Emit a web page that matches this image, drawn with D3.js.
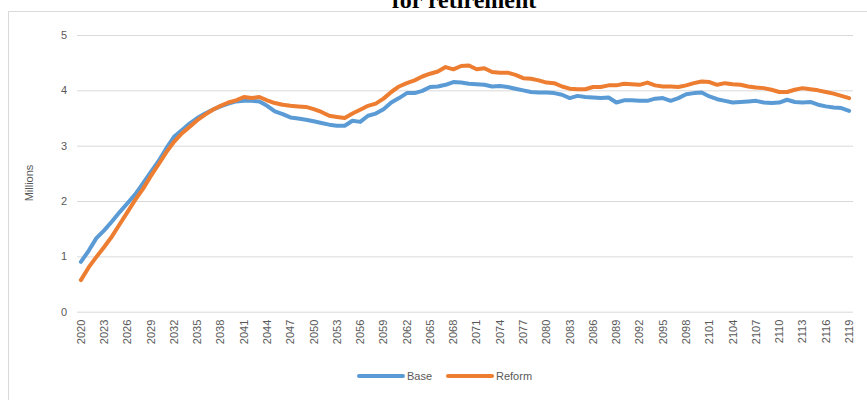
<!DOCTYPE html>
<html>
<head>
<meta charset="utf-8">
<script src="https://cdn.jsdelivr.net/npm/d3@7"></script>
<style>
  html, body { margin: 0; padding: 0; background: #ffffff; overflow: hidden; }
  svg { display: block; }
</style>
</head>
<body>
<svg id="chart" width="867" height="400"></svg>
<script>
// ---- Data ----
const years = d3.range(2020, 2120);
const baseValues = [
  0.90, 1.10, 1.33, 1.47, 1.63, 1.80, 1.96, 2.12, 2.32, 2.52,
  2.72, 2.95, 3.16, 3.28, 3.40, 3.50, 3.58, 3.65, 3.71, 3.76,
  3.80, 3.81, 3.81, 3.80, 3.72, 3.62, 3.57, 3.51, 3.49, 3.47,
  3.44, 3.41, 3.38, 3.36, 3.36, 3.45, 3.43, 3.54, 3.58, 3.66,
  3.78, 3.86, 3.95, 3.95, 3.99, 4.06, 4.07, 4.10, 4.15, 4.14,
  4.12, 4.11, 4.10, 4.07, 4.08, 4.06, 4.03, 4.00, 3.97, 3.96,
  3.96, 3.95, 3.92, 3.86, 3.90, 3.88, 3.87, 3.86, 3.87, 3.78,
  3.82, 3.82, 3.81, 3.81, 3.85, 3.86, 3.81, 3.86, 3.93, 3.95,
  3.96, 3.89, 3.84, 3.81, 3.78, 3.79, 3.80, 3.81, 3.78, 3.77,
  3.78, 3.83, 3.79, 3.78, 3.79, 3.74, 3.71, 3.69, 3.68, 3.63
];
const reformValues = [
  0.57, 0.80, 0.99, 1.17, 1.36, 1.58, 1.80, 2.02, 2.22, 2.45,
  2.66, 2.88, 3.07, 3.22, 3.34, 3.46, 3.56, 3.65, 3.72, 3.78,
  3.82, 3.88, 3.86, 3.88, 3.82, 3.77, 3.74, 3.72, 3.71, 3.70,
  3.66, 3.61, 3.54, 3.52, 3.50, 3.58, 3.65, 3.72, 3.76, 3.85,
  3.97, 4.07, 4.13, 4.18, 4.25, 4.30, 4.34, 4.42, 4.38, 4.44,
  4.45, 4.38, 4.40, 4.33, 4.32, 4.32, 4.28, 4.22, 4.21, 4.18,
  4.14, 4.13, 4.07, 4.03, 4.02, 4.02, 4.06, 4.06, 4.09, 4.09,
  4.12, 4.11, 4.10, 4.14, 4.09, 4.07, 4.07, 4.06, 4.09, 4.13,
  4.16, 4.15, 4.10, 4.13, 4.11, 4.10, 4.07, 4.05, 4.04, 4.01,
  3.97, 3.97, 4.01, 4.04, 4.02, 4.00, 3.97, 3.94, 3.90, 3.86
];
const seriesNames = ["Base", "Reform"];
const seriesColors = ["#5B9BD5", "#ED7D31"];
const yTicks = [0, 1, 2, 3, 4, 5];
const xTickYears = years.filter((y, i) => i % 3 === 0);
const titleText = "for retirement";
const yAxisTitle = "Millions";

// ---- Layout ----
const svg = d3.select("#chart");
const plot = { left: 77, right: 853, top: 35, bottom: 311.7 };
const textColor = "#595959";
const gridColor = "#D9D9D9";
const font = "'Liberation Sans', Arial, sans-serif";

// chart area border
svg.append("rect")
  .attr("x", 8.5).attr("y", 11.5)
  .attr("width", 900).attr("height", 420)
  .attr("fill", "none").attr("stroke", gridColor).attr("stroke-width", 1);

// title (partially cut at top, as in reference)
svg.append("text")
  .attr("x", 464).attr("y", 7.5)
  .attr("text-anchor", "middle")
  .attr("font-family", "'Liberation Serif', 'Times New Roman', serif")
  .attr("font-weight", "bold")
  .attr("font-size", 24)
  .attr("fill", "#000")
  .text(titleText);

const x = d3.scaleBand().domain(years).range([plot.left, plot.right]);
const xc = d => x(d) + x.bandwidth() / 2;
const y = d3.scaleLinear().domain([0, 5]).range([plot.bottom, plot.top]);

// gridlines + y axis labels
const yAxis = d3.axisLeft(y).tickValues(yTicks).tickSize(-(plot.right - plot.left)).tickPadding(10).tickFormat(d3.format("d"));
const gy = svg.append("g").attr("transform", `translate(${plot.left},0)`).call(yAxis);
gy.select(".domain").remove();
gy.selectAll(".tick line").attr("stroke", gridColor).attr("stroke-width", 1);
gy.selectAll(".tick text").attr("fill", textColor).attr("font-family", font).attr("font-size", 11);

// x axis labels
const xAxis = d3.axisBottom(x).tickValues(xTickYears).tickSize(0).tickPadding(0);
const gx = svg.append("g").attr("transform", `translate(0,${plot.bottom})`).call(xAxis);
gx.select(".domain").remove();
gx.selectAll(".tick text")
  .attr("fill", textColor).attr("font-family", font).attr("font-size", 11)
  .attr("text-anchor", "end")
  .attr("transform", "translate(0,8) rotate(-90)")
  .attr("dx", 0).attr("dy", "0.35em").attr("x", 0).attr("y", 0);

// y axis title
svg.append("text")
  .attr("transform", `translate(33,183) rotate(-90)`)
  .attr("text-anchor", "middle")
  .attr("fill", textColor).attr("font-family", font).attr("font-size", 11)
  .text(yAxisTitle);

// lines
const seriesData = [baseValues, reformValues];
const line = d3.line().x((d, i) => xc(years[i])).y(d => y(d));
seriesData.forEach((vals, k) => {
  svg.append("path")
    .datum(vals)
    .attr("d", line)
    .attr("fill", "none")
    .attr("stroke", seriesColors[k])
    .attr("stroke-width", 4)
    .attr("stroke-linejoin", "round")
    .attr("stroke-linecap", "round");
});

// legend
const legendItems = [
  { name: seriesNames[0], color: seriesColors[0], x1: 359, x2: 403, tx: 407 },
  { name: seriesNames[1], color: seriesColors[1], x1: 448, x2: 492, tx: 496 }
];
const lg = svg.append("g");
legendItems.forEach(it => {
  lg.append("line").attr("x1", it.x1).attr("x2", it.x2).attr("y1", 376).attr("y2", 376)
    .attr("stroke", it.color).attr("stroke-width", 4).attr("stroke-linecap", "round");
  lg.append("text").attr("x", it.tx).attr("y", 376).attr("dy", "0.35em")
    .attr("fill", textColor).attr("font-family", font).attr("font-size", 11)
    .text(it.name);
});
</script>
</body>
</html>
